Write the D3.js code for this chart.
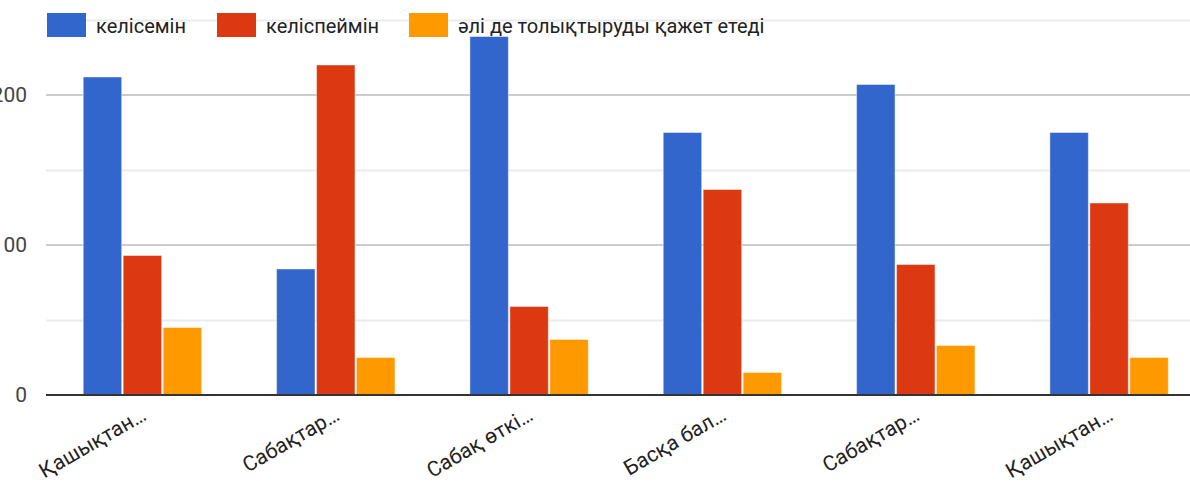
<!DOCTYPE html>
<html>
<head>
<meta charset="utf-8">
<script src="https://cdn.jsdelivr.net/npm/d3@7"></script>
<style>
  html, body { margin: 0; padding: 0; background: #fff; overflow: hidden; }
  svg { display: block; font-family: Roboto, Arial, sans-serif; }
</style>
</head>
<body>
<svg id="chart" width="1190" height="490"></svg>
<script>
const categories = ["Қашықтан…", "Сабақтар…", "Сабақ өткі…", "Басқа бал…", "Сабақтар…", "Қашықтан…"];
const seriesNames = ["келісемін", "келіспеймін", "әлі де толықтыруды қажет етеді"];
const agree = [212, 84, 239, 175, 207, 175];
const disagree = [93, 220, 59, 137, 87, 128];
const needMore = [45, 25, 37, 15, 33, 25];
const colors = ["#3366cc", "#dc3912", "#ff9900"];
const yTicks = [0, 100, 200];
const yMinor = [50, 150, 250];

const seriesValues = [agree, disagree, needMore];

const svg = d3.select("#chart");
const plotLeft = 46, plotRight = 1206, plotTop = 20, plotBase = 395;

const y = d3.scaleLinear().domain([0, 250]).range([plotBase, plotTop]);
const idx = d3.range(categories.length);
const x0 = d3.scaleBand().domain(idx).range([plotLeft, plotRight]).paddingInner(0.38).paddingOuter(0.19);
const x1 = d3.scaleBand().domain(d3.range(seriesNames.length)).range([0, x0.bandwidth()]);

// gridlines
svg.append("g").selectAll("line").data(yMinor).join("line")
  .attr("x1", plotLeft).attr("x2", 1190)
  .attr("y1", d => y(d) + 0.5).attr("y2", d => y(d) + 0.5)
  .attr("stroke", "#ebebeb").attr("stroke-width", 2);
svg.append("g").selectAll("line").data(yTicks.filter(d => d > 0)).join("line")
  .attr("x1", plotLeft).attr("x2", 1190)
  .attr("y1", d => y(d)).attr("y2", d => y(d))
  .attr("stroke", "#cccccc").attr("stroke-width", 2);

// y labels
svg.append("g").selectAll("text").data(yTicks).join("text")
  .attr("x", 27).attr("y", d => y(d))
  .attr("text-anchor", "end").attr("dominant-baseline", "central")
  .attr("font-size", 21).attr("fill", "#444")
  .text(d => d);

// bars
const groups = svg.append("g").selectAll("g").data(idx).join("g")
  .attr("transform", i => `translate(${x0(i)},0)`);
groups.selectAll("rect").data(i => seriesValues.map((s, k) => ({ k, v: s[i] }))).join("rect")
  .attr("x", d => x1(d.k) + 0.5)
  .attr("width", x1.bandwidth() - 1.5)
  .attr("y", d => y(d.v))
  .attr("height", d => plotBase - y(d.v))
  .attr("fill", d => colors[d.k])
  .attr("stroke", "#ffffff").attr("stroke-opacity", 0.45).attr("stroke-width", 1);

// baseline
svg.append("line").attr("x1", plotLeft).attr("x2", 1190)
  .attr("y1", plotBase).attr("y2", plotBase)
  .attr("stroke", "#333").attr("stroke-width", 2);

// x labels
svg.append("g").selectAll("text").data(idx).join("text")
  .attr("transform", i => `translate(${x0(i) + x0.bandwidth() / 2 + 5},${plotBase + 24}) rotate(-30)`)
  .attr("text-anchor", "end")
  .attr("font-size", 21).attr("fill", "#222")
  .text(i => categories[i]);

// legend
const legendX = [47, 217, 409];
const lg = svg.append("g").selectAll("g").data(seriesNames).join("g")
  .attr("transform", (d, k) => `translate(${legendX[k]},13)`);
lg.append("rect").attr("width", 39).attr("height", 24)
  .attr("fill", (d, k) => colors[k]);
lg.append("text").attr("x", 49).attr("y", 13)
  .attr("dominant-baseline", "central")
  .attr("font-size", 20).attr("fill", "#222")
  .text(d => d);
</script>
</body>
</html>
